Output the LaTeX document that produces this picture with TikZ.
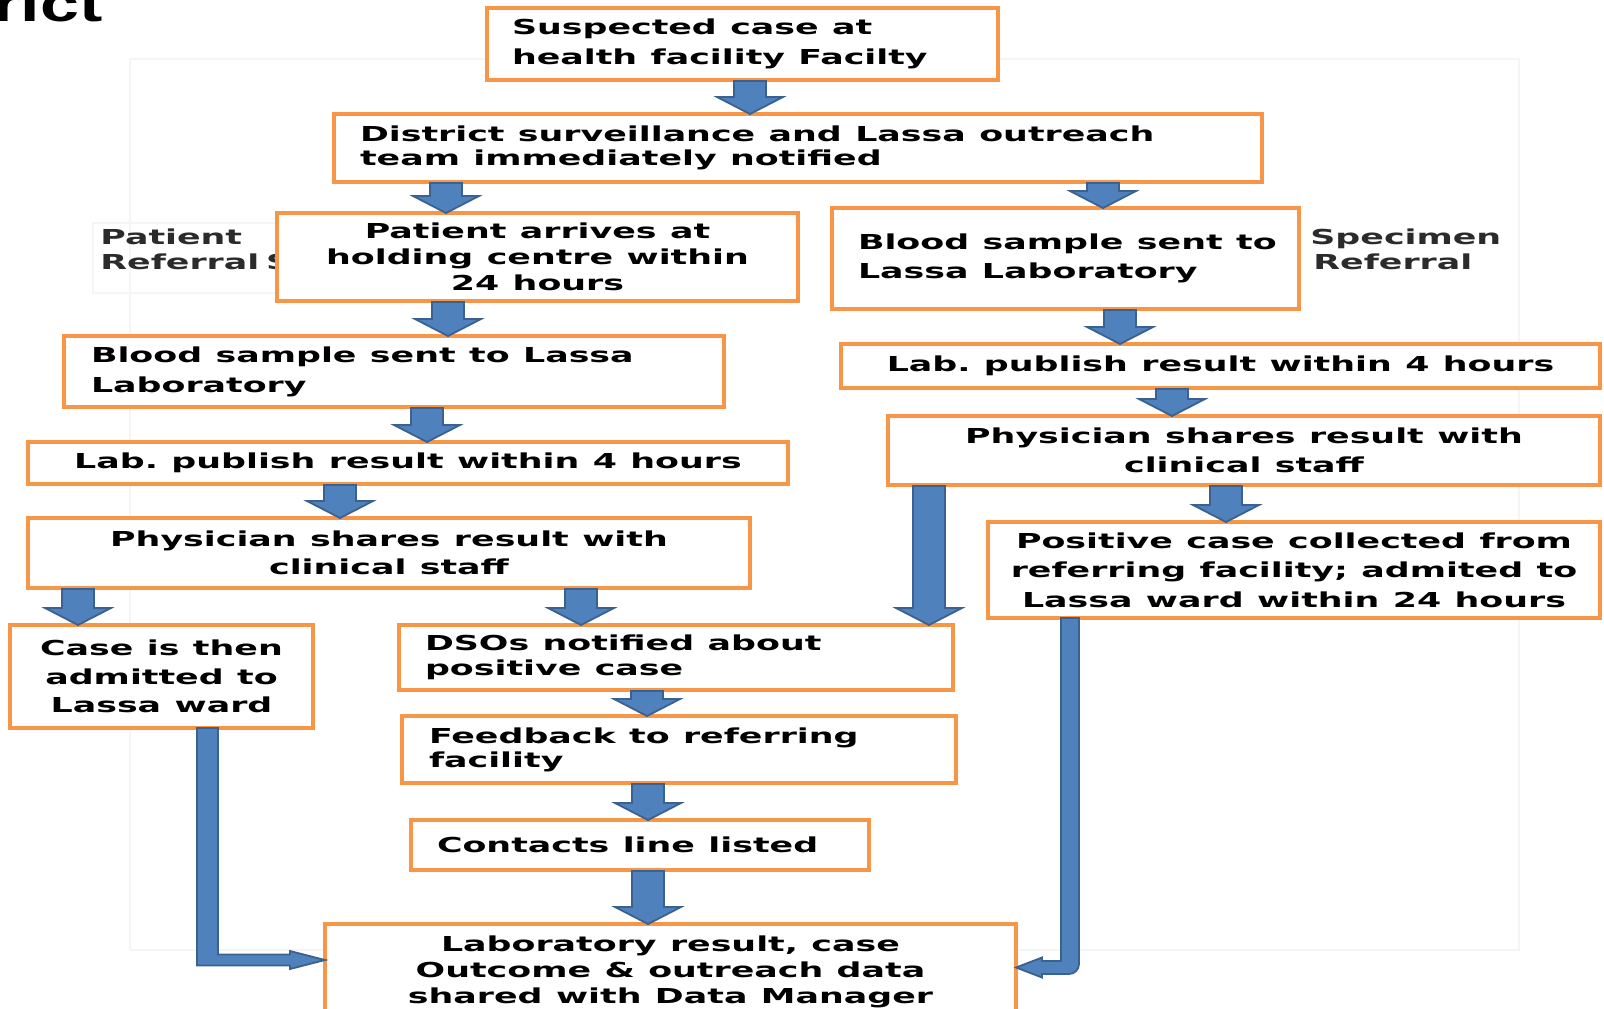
\documentclass[tikz,border=0pt]{standalone}
\usepackage{fontspec}
\usetikzlibrary{calc}
\newfontfamily\boxfont[FakeStretch=1.69]{DejaVu Sans}
\newfontfamily\headfont[FakeStretch=1.4]{Liberation Sans}
\definecolor{boxorange}{HTML}{F79646}
\definecolor{arrfill}{HTML}{4F81BD}
\definecolor{arrline}{HTML}{3A6190}
\definecolor{labelgray}{HTML}{2B2B2B}
\tikzset{
  stepbox/.style={draw=boxorange, line width=1.8pt, fill=white, inner ysep=0pt, outer sep=0pt},
  txt/.style={font={\boxfont\bfseries\fontsize{10.3pt}{#1}\selectfont},
    execute at begin node={\spaceskip=6.7pt\relax\xspaceskip=6.7pt\relax\hyphenpenalty=10000\relax}},
  leftbox/.style={stepbox, align=left},
  centerbox/.style={stepbox, align=center, inner xsep=4pt},
  blockarr/.style={fill=arrfill, draw=arrline, line width=0.9pt, line join=miter},
  faint/.style={draw=black!4, line width=0.6pt},
}
\newcommand\bdown[3]{%
  \path[blockarr] let \p1=(#1.south), \p2=(#2.north), \p3=(#3,0) in
    (\x3-8pt,\y1-0.5pt) -- (\x3+8pt,\y1-0.5pt) -- (\x3+8pt,\y2+8.5pt) -- (\x3+16.5pt,\y2+8.5pt)
    -- (\x3,\y2) -- (\x3-16.5pt,\y2+8.5pt) -- (\x3-8pt,\y2+8.5pt) -- cycle;}
\begin{document}
\begin{tikzpicture}[x=0.5pt,y=-0.5pt]
\useasboundingbox (0,0) rectangle (1604,1008);
\clip (0,0) rectangle (1604,1008);
\fill[white] (0,0) rectangle (1604,1008);
% faint background frames
\draw[faint] (130,59) rectangle (1519,950);
\draw[faint] (93,223) rectangle (290,293);
% heading fragment
\node[font={\headfont\bfseries\fontsize{25pt}{28pt}\selectfont}, anchor=base east, inner sep=0pt] (head) at (103,21) {District};
% side labels
\node[txt=12.5pt, execute at begin node={\spaceskip=3.4pt\relax}, text=labelgray, anchor=base west, inner sep=0pt, text width=150pt, align=left] (patlab) at (100,244) {Patient\\Referral S};
\node[txt=12.5pt, text=labelgray, anchor=base west, inner sep=0pt, text width=120pt, align=left] (speclab) at (1310,244) {Specimen\\\hspace*{1.5pt}Referral};
% boxes
\node[leftbox, txt=15pt, minimum width=255.5pt, minimum height=36pt, text width=230.5pt, inner xsep=12.5pt] (susp) at (742.5,44) {Suspected case at\\health facility Facilty};
\node[leftbox, txt=12pt, minimum width=464pt, minimum height=34pt, text width=438pt, inner xsep=13pt] (dist) at (798,148) {District surveillance and Lassa outreach\\team immediately notified};
\node[centerbox, txt=13pt, minimum width=260.5pt, minimum height=44pt, text width=252.5pt] (pat) at (537.5,257) {Patient arrives at\\holding centre within\\24 hours};
\node[leftbox, txt=14.5pt, minimum width=233.5pt, minimum height=50.5pt, text width=207.5pt, inner xsep=13pt] (bloodR) at (1065.5,258.5) {\mbox{Blood sample sent to}\\Lassa Laboratory\\[6pt]};
\node[leftbox, txt=15pt, minimum width=330pt, minimum height=35.5pt, text width=303pt, inner xsep=13.5pt] (bloodL) at (394,371.5) {Blood sample sent to Lassa\\Laboratory};
\node[centerbox, txt=14pt, minimum width=379.5pt, minimum height=22pt, text width=371.5pt] (labR) at (1220.5,366) {Lab. publish result within 4 hours};
\node[centerbox, txt=14pt, minimum width=380pt, minimum height=21pt, text width=372pt] (labL) at (408,463) {Lab. publish result within 4 hours};
\node[centerbox, txt=14.5pt, minimum width=356pt, minimum height=34.5pt, text width=348pt] (physR) at (1244,450.5) {Physician shares result with\\clinical staff};
\node[centerbox, txt=14pt, minimum width=361pt, minimum height=35pt, text width=353pt] (physL) at (389,553) {Physician shares result with\\clinical staff};
\node[centerbox, txt=14.75pt, minimum width=306pt, minimum height=48pt, text width=300pt, inner xsep=3pt] (pos) at (1294,570) {Positive case collected from\\referring facility; admited to\\Lassa ward within 24 hours};
\node[centerbox, txt=14.25pt, minimum width=151.5pt, minimum height=51.5pt, text width=143.5pt] (caseadm) at (161.5,676.5) {Case is then\\admitted to\\Lassa ward};
\node[leftbox, txt=12.5pt, minimum width=277pt, minimum height=32.5pt, text width=251pt, inner xsep=13pt] (dso) at (676,657.5) {DSOs notified about\\positive case};
\node[leftbox, txt=12pt, minimum width=277pt, minimum height=33.5pt, text width=250pt, inner xsep=13.5pt] (feed) at (679,749.5) {Feedback to referring\\facility};
\node[leftbox, txt=14pt, minimum width=229pt, minimum height=25pt, text width=203pt, inner xsep=13pt] (cont) at (640,845) {Contacts line listed};
\node[centerbox, txt=13pt, minimum width=345.5pt, minimum height=48pt, text width=337.5pt] (labres) at (670.5,972) {Laboratory result, case\\Outcome \& outreach data\\shared with Data Manager};
% straight block arrows
\bdown{susp}{dist}{750}
\bdown{dist}{pat}{446}
\bdown{dist}{bloodR}{1103}
\bdown{pat}{bloodL}{448}
\bdown{bloodR}{labR}{1120}
\bdown{bloodL}{labL}{427}
\bdown{labR}{physR}{1172}
\bdown{labL}{physL}{340}
\bdown{physR}{pos}{1226}
\bdown{physL}{caseadm}{78}
\bdown{physL}{dso}{581}
\bdown{physR}{dso}{929}
\bdown{dso}{feed}{647}
\bdown{feed}{cont}{648}
\bdown{cont}{labres}{648}
% elbow arrows
\path[blockarr] let \p1=(caseadm.south), \p2=(labres.west), \p3=(207.5,960) in
  (\x3-5.25pt,\y1) -- (\x3-5.25pt,\y3-2.75pt) -- (\x2-17.5pt,\y3-2.75pt) -- (\x2-17.5pt,\y3-4.5pt)
  -- (\x2,\y3) -- (\x2-17.5pt,\y3+4.5pt) -- (\x2-17.5pt,\y3+2.75pt) -- (\x3+5.25pt,\y3+2.75pt)
  -- (\x3+5.25pt,\y1) -- cycle;
\path[blockarr] let \p1=(pos.south), \p2=(labres.east), \p3=(1070,967.5) in
  (\x3+4.5pt,\y1) [rounded corners=5pt] -- (\x3+4.5pt,\y3-3.25pt) [sharp corners] -- (\x2+13pt,\y3-3.25pt)
  -- (\x2+13pt,\y3-5pt) -- (\x2,\y3) -- (\x2+13pt,\y3+5pt) -- (\x2+13pt,\y3+3.25pt)
  -- (\x3-4.5pt,\y3+3.25pt) -- (\x3-4.5pt,\y1) -- cycle;
\end{tikzpicture}
\end{document}
